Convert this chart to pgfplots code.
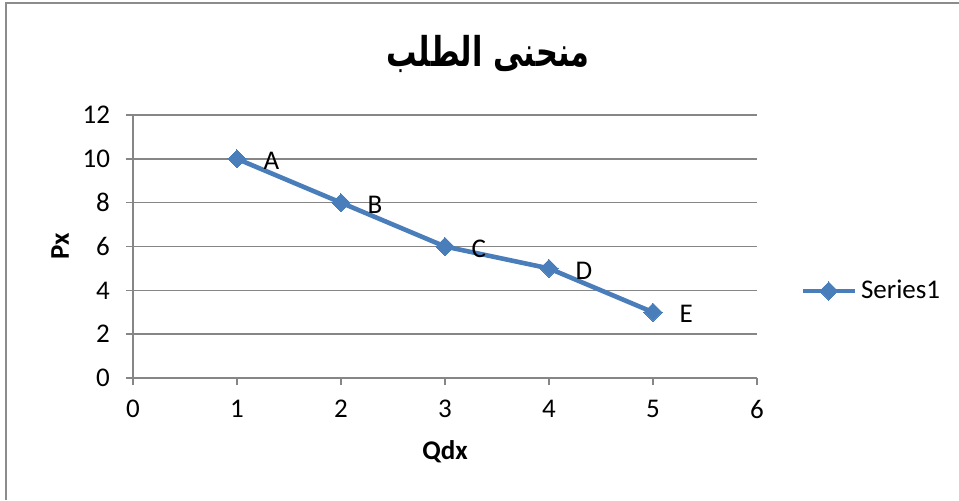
\documentclass[border=0pt]{standalone}
\usepackage{pgfplots}
\pgfplotsset{compat=1.18}
\usepackage{fontspec}
\setmainfont{Carlito}
\newfontfamily\arabicfont[Script=Arabic]{DejaVu Sans}
\TeXXeTstate=1

\definecolor{serieblue}{HTML}{4A7EBB}
\definecolor{gridgray}{HTML}{868686}
\definecolor{framegray}{HTML}{8C8C8C}

\pgfplotstableread{
x y lab
1 10 A
2 8  B
3 6  C
4 5  D
5 3  E
}\demand

\newcommand{\chartfont}{\fontsize{13.5}{16}\selectfont}

\begin{document}
\begin{tikzpicture}
\useasboundingbox (0,0) rectangle (479.5pt,250pt);
% chart frame (left and top edges)
\draw[framegray, line width=0.9pt] (3pt,0) -- (3pt,248.5pt) -- (479.5pt,248.5pt);
% title
\node[font=\arabicfont\bfseries\fontsize{19}{22}\selectfont] at (244pt,223pt)
  {\scalebox{0.8}[1.08]{\beginR منحنى الطلب\endR}};
\begin{axis}[
  at={(66.5pt,61pt)}, anchor=south west,
  scale only axis, width=312pt, height=131.5pt,
  xmin=0, xmax=6, ymin=0, ymax=12,
  xtick={0,...,6}, ytick={0,2,...,12},
  axis lines=left, axis line style={-, gridgray, line width=0.8pt},
  tick align=outside, major tick length=3.5pt,
  tick style={gridgray, line width=0.8pt},
  ymajorgrids, grid style={gridgray, line width=0.8pt},
  tick label style={font=\chartfont},
  xticklabel style={yshift=-4pt},
  yticklabel style={xshift=-4.5pt},
  /pgf/number format/assume math mode=true,
  xlabel={Qdx}, ylabel={Px},
  label style={font=\bfseries\chartfont},
  xlabel style={at={(axis description cs:0.5,0)}, anchor=center, yshift=-37pt},
  ylabel style={at={(axis description cs:0,0.5)}, anchor=center, yshift=36.5pt},
  legend style={draw=none, at={(1.069,0.331)}, anchor=west, inner sep=0pt,
    font=\chartfont},
  legend image code/.code={\draw[mark repeat=2, mark phase=2]
    plot coordinates {(0pt,0pt) (13pt,0pt) (26pt,0pt)};},
  clip=false,
]
\addplot[serieblue, line width=2.3pt, mark=square*, mark size=3.2pt,
  mark options={rotate=45, fill=serieblue, draw=serieblue, line width=0pt},
  nodes near coords, point meta=explicit symbolic,
  every node near coord/.style={anchor=west, xshift=10pt, yshift=-1pt,
    font=\chartfont, text=black}]
  table[x=x, y=y, meta=lab] {\demand};
\addlegendentry{Series1}
\end{axis}
\end{tikzpicture}
\end{document}
